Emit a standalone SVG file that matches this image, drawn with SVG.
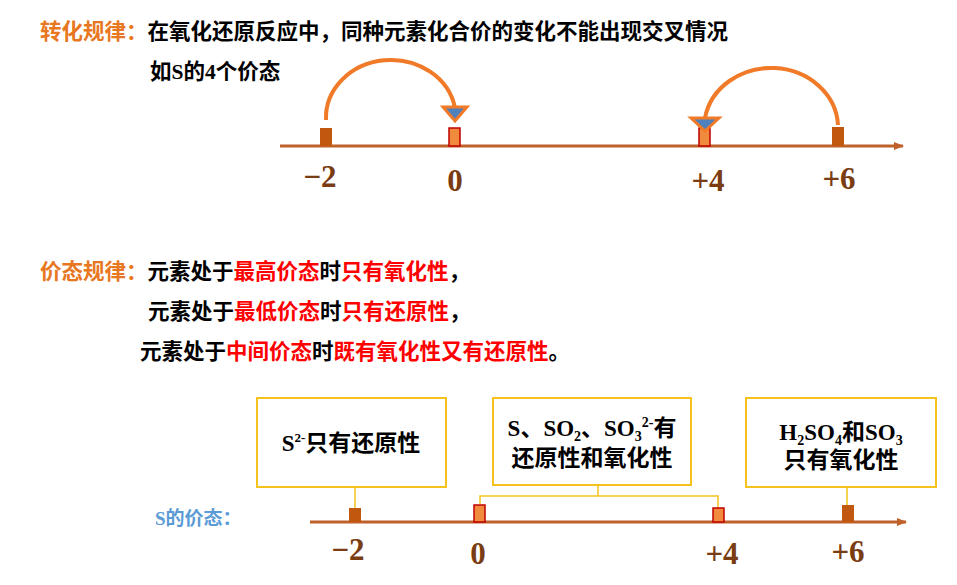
<svg xmlns="http://www.w3.org/2000/svg" width="957" height="585" viewBox="0 0 957 585">
<style>
.t{font-family:"Microsoft YaHei","Noto Sans CJK SC",sans-serif;font-weight:bold;font-size:21.5px;fill:#000}
.o{fill:#e87722}.r{fill:#ff0000}
.n{font-family:"Liberation Serif","Noto Sans CJK SC",serif;font-weight:bold;font-size:31px;fill:#7a3c12;text-anchor:middle}
.ax{stroke:#c0602a;stroke-width:3;fill:none}
.tk{fill:#c0580f}
.tk2{fill:#f08a3c;stroke:#c00000;stroke-width:1.5}
.arc{stroke:#f07a28;stroke-width:4;fill:none}
.tri{fill:#4f81bd;stroke:#f07a28;stroke-width:3}
.box{fill:#fff;stroke:#f5c21b;stroke-width:2}
.ln{stroke:#f5c21b;stroke-width:1.5;fill:none}
.bt{font-family:"Noto Sans CJK SC",sans-serif;font-weight:bold;font-size:23px;fill:#000;text-anchor:middle}
.se{font-family:"Liberation Serif",serif}
</style>
<defs><marker id="ah" markerWidth="10" markerHeight="8" refX="9" refY="4" orient="auto" markerUnits="userSpaceOnUse"><path d="M0,0L10,4L0,8z" fill="#c0602a"/></marker></defs>
<g id="rule1">
<text class="t" x="40" y="39"><tspan class="o">转化规律：</tspan>在氧化还原反应中，同种元素化合价的变化不能出现交叉情况</text>
<text class="t" x="150" y="79">如<tspan class="se">S</tspan>的<tspan class="se">4</tspan>个价态</text>
</g>
<g id="axis1">
<line class="ax" x1="280" y1="146" x2="903" y2="146" marker-end="url(#ah)"/>
<rect class="tk" x="320" y="128" width="12" height="18"/>
<rect class="tk2" x="449" y="128" width="11" height="18"/>
<rect class="tk2" x="699" y="128" width="11" height="18"/>
<rect class="tk" x="832" y="127" width="12" height="19"/>
<text class="n" x="320" y="187">−2</text>
<text class="n" x="455" y="191">0</text>
<text class="n" x="708" y="191">+4</text>
<text class="n" x="839" y="189">+6</text>
</g>
<g id="connectors">
<path class="arc" d="M326,120 A65,58 0 0 1 455,108"/>
<path class="tri" d="M443,107 L467,107 L455,121 Z"/>
<path class="arc" d="M838,125 A67,60 0 0 0 705,118"/>
<path class="tri" d="M691,118 L719,118 L705,131 Z"/>
<path class="ln" d="M355,487 V508 M598,485 V496 M480,504 V496 H718 V508 M847,487 V505"/>
</g>
<g id="rule2">
<text class="t" x="40" y="279"><tspan class="o">价态规律：</tspan>元素处于<tspan class="r">最高价态</tspan>时<tspan class="r">只有氧化性</tspan>，</text>
<text class="t" x="148" y="319">元素处于<tspan class="r">最低价态</tspan>时<tspan class="r">只有还原性</tspan>，</text>
<text class="t" x="140" y="359">元素处于<tspan class="r">中间价态</tspan>时<tspan class="r">既有氧化性又有还原性</tspan>。</text>
</g>
<g id="box1"><rect class="box" x="257" y="398" width="189" height="89"/>
<text class="bt" x="351" y="451"><tspan class="se">S<tspan font-size="13" dy="-9">2-</tspan></tspan><tspan dy="9">只有还原性</tspan></text></g>
<g id="box2"><rect class="box" x="493" y="398" width="198" height="87"/>
<text class="bt" x="592" y="436"><tspan class="se">S</tspan>、<tspan class="se">SO<tspan font-size="14" dy="5">2</tspan></tspan><tspan dy="-5">、</tspan><tspan class="se">SO<tspan font-size="14" dy="5">3</tspan><tspan font-size="14" dy="-14">2-</tspan></tspan><tspan dy="9">有</tspan></text>
<text class="bt" x="592" y="466">还原性和氧化性</text></g>
<g id="box3"><rect class="box" x="746" y="398" width="190" height="89"/>
<text class="bt" x="841" y="440"><tspan class="se">H<tspan font-size="14" dy="5">2</tspan><tspan dy="-5">SO</tspan><tspan font-size="14" dy="5">4</tspan></tspan><tspan dy="-5">和</tspan><tspan class="se">SO<tspan font-size="14" dy="5">3</tspan></tspan></text>
<text class="bt" x="841" y="468">只有氧化性</text></g>
<g id="axis2">
<text class="t" x="155" y="525" style="fill:#5b9bd5;font-size:19px"><tspan class="se">S</tspan>的价态：</text>
<line class="ax" x1="310" y1="522" x2="906" y2="522" marker-end="url(#ah)"/>
<rect class="tk" x="349" y="508" width="12" height="14"/>
<rect class="tk2" x="474" y="505" width="11" height="17"/>
<rect class="tk2" x="713" y="508" width="11" height="14"/>
<rect class="tk" x="842" y="505" width="12" height="17"/>
<text class="n" x="348" y="560">−2</text>
<text class="n" x="478" y="564">0</text>
<text class="n" x="722" y="564">+4</text>
<text class="n" x="848" y="562">+6</text>
</g>
</svg>
